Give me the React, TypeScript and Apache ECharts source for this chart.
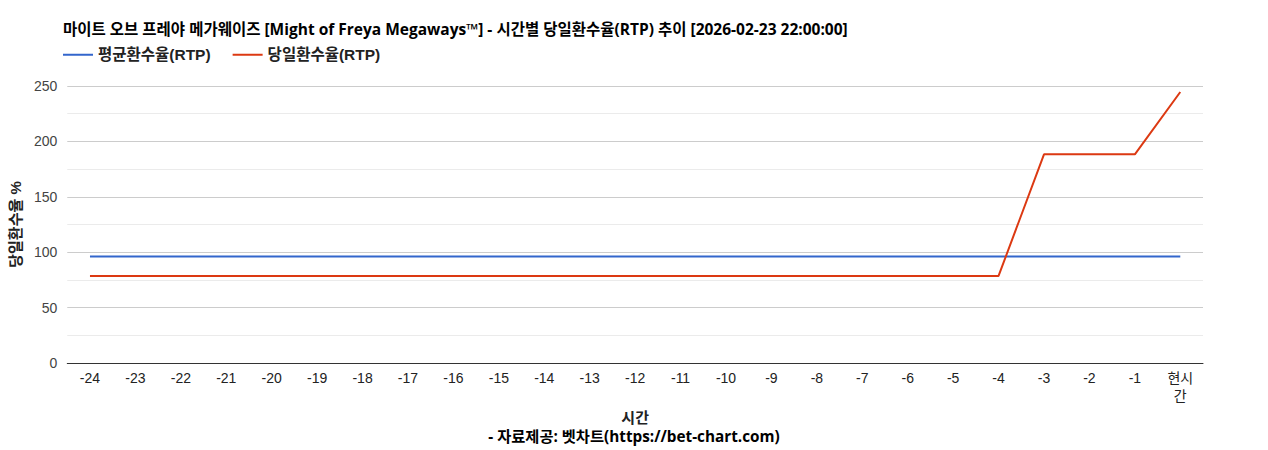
import React, { useEffect, useRef } from "react";
import * as echarts from "echarts";

const categories = ["-24","-23","-22","-21","-20","-19","-18","-17","-16","-15","-14","-13","-12","-11","-10","-9","-8","-7","-6","-5","-4","-3","-2","-1","현시간"];
const avgRtp = [96.1,96.1,96.1,96.1,96.1,96.1,96.1,96.1,96.1,96.1,96.1,96.1,96.1,96.1,96.1,96.1,96.1,96.1,96.1,96.1,96.1,96.1,96.1,96.1,96.1];
const dayRtp = [78.6,78.6,78.6,78.6,78.6,78.6,78.6,78.6,78.6,78.6,78.6,78.6,78.6,78.6,78.6,78.6,78.6,78.6,78.6,78.6,78.6,188.3,188.3,188.3,244.6];
const yTicks = { min: 0, max: 250, interval: 50 };

const FONT = "Arial, 'Liberation Sans', 'Noto Sans CJK KR', sans-serif";
const FONT2 = "'Open Sans', 'Noto Sans CJK KR', sans-serif";

export default function App() {
  const ref = useRef<HTMLDivElement>(null);
  useEffect(() => {
    if (!ref.current) return;
    const chart = echarts.init(ref.current, undefined, { renderer: "svg" });
    chart.setOption({
      animation: false,
      backgroundColor: "#ffffff",
      textStyle: { fontFamily: FONT },
      title: {
        text: "마이트 오브 프레야 메가웨이즈 [Might of Freya Megaways™] - 시간별 당일환수율(RTP) 추이 [2026-02-23 22:00:00]",
        left: 63,
        top: 21,
        padding: 0,
        textStyle: { fontSize: 15.5, fontWeight: "bold", color: "#000", fontFamily: FONT2 },
      },
      legend: {
        left: 63,
        top: 47,
        padding: 0,
        itemWidth: 30,
        itemHeight: 2,
        itemGap: 22,
        icon: "rect",
        textStyle: { fontSize: 15.5, fontWeight: "bold", color: "#222", fontFamily: FONT },
        data: ["평균환수율(RTP)", "당일환수율(RTP)"],
      },
      grid: { left: 63, right: 65, top: 86, bottom: 87, containLabel: false },
      xAxis: {
        type: "category",
        data: categories,
        boundaryGap: true,
        name: "시간",
        nameLocation: "middle",
        nameGap: 44,
        nameTextStyle: { fontSize: 15, fontWeight: "bold", color: "#222", fontFamily: FONT2 },
        axisLine: { show: true, lineStyle: { color: "#333", width: 1 } },
        axisTick: { show: false },
        axisLabel: {
          fontSize: 14,
          color: "#222",
          margin: 6,
          interval: 0,
          lineHeight: 18,
          formatter: (v: string) => (v === "현시간" ? "현시\n간" : v),
        },
      },
      yAxis: {
        type: "value",
        min: yTicks.min,
        max: yTicks.max,
        interval: yTicks.interval,
        name: "당일환수율 %",
        nameLocation: "middle",
        nameRotate: 90,
        nameGap: 14,
        nameTextStyle: { fontSize: 15, fontWeight: "bold", color: "#222", fontFamily: FONT },
        axisLine: { show: false },
        axisTick: { show: false },
        axisLabel: { fontSize: 14, color: "#444", margin: 10 },
        splitLine: { show: true, lineStyle: { color: "#cccccc", width: 1 } },
        minorTick: { show: false, splitNumber: 2 },
        minorSplitLine: { show: true, lineStyle: { color: "#ebebeb", width: 1 } },
      },
      graphic: [
        {
          type: "text",
          left: "center",
          top: 428,
          style: {
            text: "- 자료제공: 벳차트(https://bet-chart.com)",
            fontSize: 15.3,
            fontWeight: "bold",
            fill: "#000",
            fontFamily: FONT2,
          },
        },
      ],
      series: [
        {
          name: "평균환수율(RTP)",
          type: "line",
          data: avgRtp,
          symbol: "none",
          lineStyle: { color: "#3366cc", width: 2 },
          itemStyle: { color: "#3366cc" },
        },
        {
          name: "당일환수율(RTP)",
          type: "line",
          data: dayRtp,
          symbol: "none",
          lineStyle: { color: "#dc3912", width: 2 },
          itemStyle: { color: "#dc3912" },
        },
      ],
    });
    return () => chart.dispose();
  }, []);
  return (
    <div
      ref={ref}
      style={{ position: "fixed", left: 0, top: 0, width: 1268, height: 450 }}
    />
  );
}
